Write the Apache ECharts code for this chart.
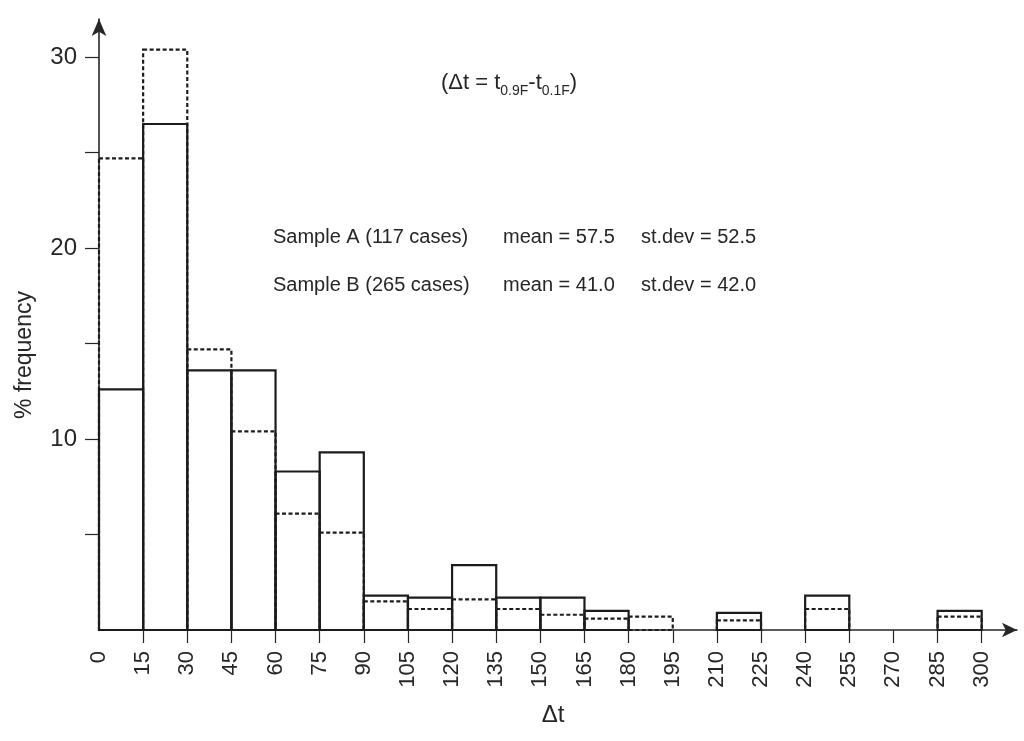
<!DOCTYPE html>
<html>
<head>
<meta charset="utf-8">
<script src="https://cdn.jsdelivr.net/npm/echarts@6/dist/echarts.min.js"></script>
<style>
  html, body { margin: 0; padding: 0; background: #fff; }
  #chart { width: 1024px; height: 741px; }
</style>
</head>
<body>
<div id="chart"></div>
<script>
// bins of 15 in delta t, left edges
const binStarts = [0, 15, 30, 45, 60, 75, 90, 105, 120, 135, 150, 165, 180, 195, 210, 225, 240, 255, 270, 285];
const binWidth = 15;
// % frequency, solid outline = sample A, dashed = sample B
const sampleA = [12.6, 26.5, 13.6, 13.6, 8.3, 9.3, 1.8, 1.7, 3.4, 1.7, 1.7, 1.0, 0, 0, 0.9, 0, 1.8, 0, 0, 1.0];
const sampleB = [24.7, 30.4, 14.7, 10.4, 6.1, 5.1, 1.5, 1.1, 1.6, 1.1, 0.8, 0.6, 0.7, 0, 0.5, 0, 1.1, 0, 0, 0.7];
const xTicks = [15, 30, 45, 60, 75, 90, 105, 120, 135, 150, 165, 180, 195, 210, 225, 240, 255, 270, 285, 300];
const xLabels = [0, 15, 30, 45, 60, 75, 90, 105, 120, 135, 150, 165, 180, 195, 210, 225, 240, 255, 270, 285, 300];
const yTicks = [5, 10, 15, 20, 25, 30];
const yLabels = [10, 20, 30];

const font = "'Liberation Sans', Arial, Helvetica, sans-serif";
const ink = "#262626";

function toBins(values) {
  return values.map((v, i) => [binStarts[i], binStarts[i] + binWidth, v]);
}

function outline(dash) {
  return function (params, api) {
    const v = api.value(2);
    if (!v) return null;
    const p0 = api.coord([api.value(0), v]);
    const p1 = api.coord([api.value(1), 0]);
    return {
      type: "rect",
      shape: { x: p0[0], y: p0[1], width: p1[0] - p0[0], height: p1[1] - p0[1] },
      style: { fill: "none", stroke: "#1c1c1c", lineWidth: 2.2, lineDash: dash },
    };
  };
}

const chart = echarts.init(document.getElementById("chart"));

const option = {
  backgroundColor: "#fff",
  animation: false,
  grid: { left: 99, right: 7, top: 19, bottom: 111 },
  xAxis: {
    type: "value",
    min: 0,
    max: 312,
    splitLine: { show: false },
    axisLine: {
      lineStyle: { color: ink, width: 1.6 },
      symbol: ["none", "arrow"],
      symbolSize: [11, 15],
    },
    axisTick: { customValues: xTicks, length: 13, lineStyle: { color: ink, width: 1.2 } },
    axisLabel: {
      customValues: xLabels,
      rotate: 90,
      margin: 21,
      fontSize: 22,
      fontFamily: font,
      color: ink,
    },
  },
  yAxis: {
    type: "value",
    min: 0,
    max: 32,
    splitLine: { show: false },
    axisLine: {
      show: true,
      lineStyle: { color: ink, width: 1.6 },
      symbol: ["none", "arrow"],
      symbolSize: [11, 17],
    },
    axisTick: { show: true, customValues: yTicks, length: 14, lineStyle: { color: ink, width: 1.2 } },
    axisLabel: {
      customValues: yLabels,
      margin: 22,
      fontSize: 24,
      fontFamily: font,
      color: ink,
    },
  },
  series: [
    {
      name: "Sample B",
      type: "custom",
      renderItem: outline([4, 2.5]),
      encode: { x: [0, 1], y: 2 },
      data: toBins(sampleB),
      z: 2,
    },
    {
      name: "Sample A",
      type: "custom",
      renderItem: outline(null),
      encode: { x: [0, 1], y: 2 },
      data: toBins(sampleA),
      z: 3,
    },
  ],
  graphic: [
    {
      type: "text",
      x: 441,
      y: 83,
      style: {
        text: "(Δt = t{sub|0.9F}-t{sub|0.1F})",
        font: "22px " + font,
        fill: ink,
        verticalAlign: "middle",
        lineHeight: 30,
        rich: {
          sub: { fontSize: 14, fontFamily: font, fill: ink, verticalAlign: "bottom", lineHeight: 14 },
        },
      },
    },
    { type: "text", x: 273, y: 237, style: { text: "Sample A (117 cases)", font: "20px " + font, fill: ink, verticalAlign: "middle" } },
    { type: "text", x: 503, y: 237, style: { text: "mean = 57.5", font: "20px " + font, fill: ink, verticalAlign: "middle" } },
    { type: "text", x: 641, y: 237, style: { text: "st.dev = 52.5", font: "20px " + font, fill: ink, verticalAlign: "middle" } },
    { type: "text", x: 273, y: 285, style: { text: "Sample B (265 cases)", font: "20px " + font, fill: ink, verticalAlign: "middle" } },
    { type: "text", x: 503, y: 285, style: { text: "mean = 41.0", font: "20px " + font, fill: ink, verticalAlign: "middle" } },
    { type: "text", x: 641, y: 285, style: { text: "st.dev = 42.0", font: "20px " + font, fill: ink, verticalAlign: "middle" } },
    { type: "text", x: 553, y: 715, style: { text: "Δt", font: "24px " + font, fill: ink, align: "center", verticalAlign: "middle" } },
    {
      type: "text",
      x: 25,
      y: 355,
      rotation: Math.PI / 2,
      style: { text: "% frequency", font: "23px " + font, fill: ink, align: "center", verticalAlign: "middle" },
    },
  ],
};

chart.setOption(option);
</script>
</body>
</html>
